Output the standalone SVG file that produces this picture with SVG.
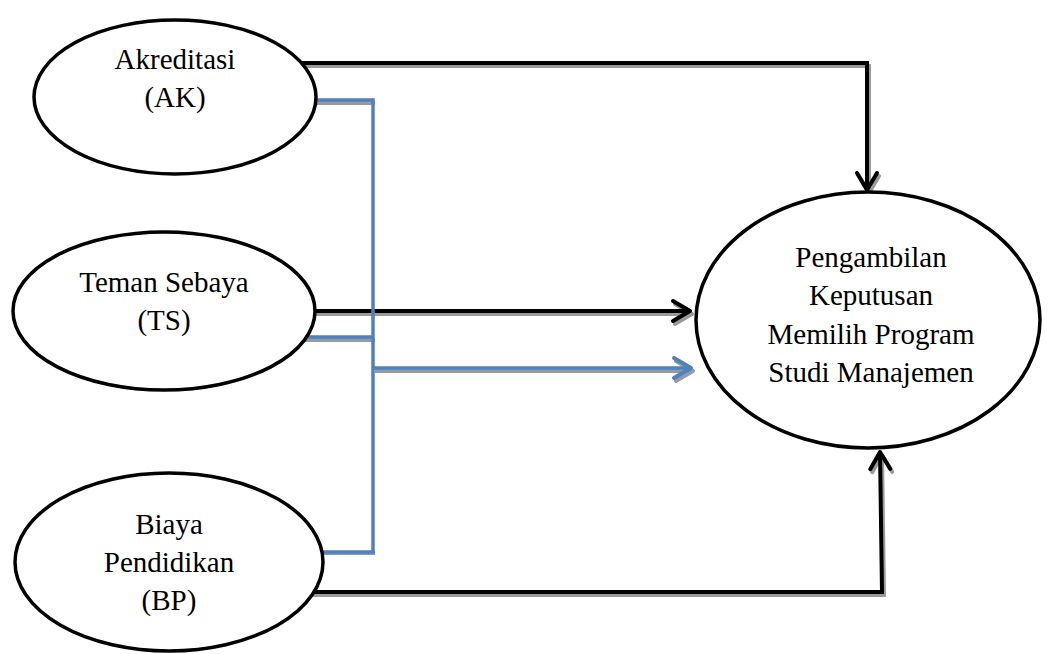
<svg xmlns="http://www.w3.org/2000/svg" width="1052" height="654" viewBox="0 0 1052 654">
  <style>
    .node { fill: #ffffff; stroke: #000000; stroke-width: 3.5; }
    .lbl { font-family: "Liberation Serif", "Times New Roman", serif; font-size: 29px; fill: #000000; text-anchor: middle; }
    .blk { fill: none; stroke: #000000; stroke-width: 4; stroke-linejoin: miter; }
    .blu { fill: none; stroke: #4F81BD; stroke-width: 3.5; stroke-linejoin: miter; }
    .shd { fill: none; stroke: #9a9a9a; stroke-width: 4; }
  </style>
  <defs>
    <marker id="arrBlack" markerUnits="userSpaceOnUse" viewBox="-22 -14 26 28" markerWidth="26" markerHeight="28" refX="0" refY="0" orient="auto">
      <path d="M-17,-10 L0,0 L-17,10" fill="none" stroke="#000000" stroke-width="4" stroke-linecap="round" stroke-linejoin="round"/>
    </marker>
    <marker id="arrBlue" markerUnits="userSpaceOnUse" viewBox="-22 -14 26 28" markerWidth="26" markerHeight="28" refX="0" refY="0" orient="auto">
      <path d="M-17,-10 L0,0 L-17,10" fill="none" stroke="#4F81BD" stroke-width="4" stroke-linecap="round" stroke-linejoin="round"/>
    </marker>
    <marker id="arrShadow" markerUnits="userSpaceOnUse" viewBox="-22 -14 26 28" markerWidth="26" markerHeight="28" refX="0" refY="0" orient="auto">
      <path d="M-17,-10 L0,0 L-17,10" fill="none" stroke="#9a9a9a" stroke-width="4" stroke-linecap="round" stroke-linejoin="round"/>
    </marker>
  </defs>
  <rect x="0" y="0" width="1052" height="654" fill="#ffffff"/>

  <g id="connectors">
    <g id="shadows" transform="translate(2,3)">
      <path class="shd" d="M300,63 L867,63 L867,190" marker-end="url(#arrShadow)"/>
      <path class="shd" d="M300,100 L373,100"/>
      <path class="shd" d="M300,337 L373,337"/>
      <path class="shd" d="M300,550 L373,550"/>
      <path class="shd" d="M373,368 L691,368" marker-end="url(#arrShadow)"/>
      <path class="shd" d="M300,311 L690,311" marker-end="url(#arrShadow)"/>
      <path class="shd" d="M300,592 L882,592 L880,452" marker-end="url(#arrShadow)"/>
    </g>
    <path id="e-ak" class="blk" d="M300,63 L867,63 L867,190" marker-end="url(#arrBlack)"/>
    <path id="e-ts" class="blk" d="M300,311 L690,311" marker-end="url(#arrBlack)"/>
    <path id="e-bp" class="blk" d="M300,592 L882,592 L880,452" marker-end="url(#arrBlack)"/>
    <path id="e-joint" class="blu" d="M300,100 L373,100 L373,552 L300,552 M300,337 L373,337 M373,368 L691,368" marker-end="url(#arrBlue)"/>
  </g>

  <g id="node-ak">
    <ellipse class="node" cx="175" cy="97" rx="141" ry="77"/>
    <text class="lbl" x="175" y="69">Akreditasi</text>
    <text class="lbl" x="175" y="107">(AK)</text>
  </g>
  <g id="node-ts">
    <ellipse class="node" cx="164" cy="311" rx="151" ry="79"/>
    <text class="lbl" x="164" y="292">Teman Sebaya</text>
    <text class="lbl" x="164" y="330">(TS)</text>
  </g>
  <g id="node-bp">
    <ellipse class="node" cx="169" cy="562" rx="154" ry="89"/>
    <text class="lbl" x="169" y="534">Biaya</text>
    <text class="lbl" x="169" y="572">Pendidikan</text>
    <text class="lbl" x="169" y="610">(BP)</text>
  </g>
  <g id="node-pk">
    <ellipse class="node" cx="868" cy="320" rx="172" ry="128"/>
    <text class="lbl" x="871" y="267">Pengambilan</text>
    <text class="lbl" x="871" y="305">Keputusan</text>
    <text class="lbl" x="871" y="344">Memilih Program</text>
    <text class="lbl" x="871" y="382">Studi Manajemen</text>
  </g>
</svg>
